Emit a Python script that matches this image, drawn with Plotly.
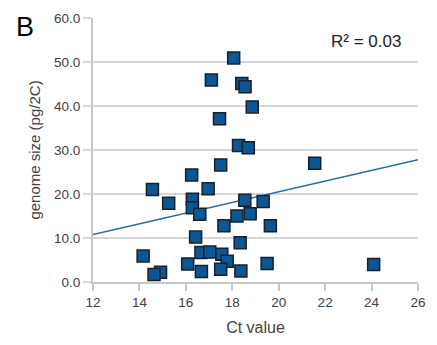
import plotly.graph_objects as go

ct_value = [18.06, 17.10, 18.41, 18.55, 18.86, 17.45, 18.27, 18.69, 17.50, 21.55,
            16.25, 14.56, 16.96, 16.28, 16.28, 15.26, 16.60, 18.54, 19.33, 18.20,
            18.77, 17.64, 19.64, 16.42, 18.34, 14.16, 16.65, 17.03, 17.55, 17.78,
            16.08, 19.50, 14.91, 14.63, 16.67, 17.50, 18.37, 24.09]
genome_size = [50.9, 45.9, 45.1, 44.4, 39.8, 37.1, 31.0, 30.5, 26.6, 27.0,
               24.3, 21.0, 21.2, 18.8, 16.9, 17.9, 15.4, 18.6, 18.3, 15.0,
               15.5, 12.8, 12.8, 10.2, 8.9, 5.9, 6.7, 6.8, 6.3, 4.7,
               4.1, 4.2, 2.2, 1.7, 2.4, 2.9, 2.5, 4.0]

trend_x = [12, 26]
trend_y = [10.8, 27.8]

x_ticks = [12, 14, 16, 18, 20, 22, 24, 26]
y_ticks = [0, 10, 20, 30, 40, 50, 60]
y_tick_labels = ["0.0", "10.0", "20.0", "30.0", "40.0", "50.0", "60.0"]

fig = go.Figure()
fig.add_trace(go.Scatter(
    x=trend_x, y=trend_y, mode="lines",
    line=dict(color="#2b6cad", width=1.5), hoverinfo="skip"))
fig.add_trace(go.Scatter(
    x=ct_value, y=genome_size, mode="markers",
    marker=dict(symbol="square", size=12, color="#0b5694",
                line=dict(color="#17202b", width=1.5))))

font = "Liberation Sans, Arial, sans-serif"
fig.update_layout(
    width=437, height=345,
    margin=dict(l=93, r=14, t=11, b=62),
    paper_bgcolor="white", plot_bgcolor="white",
    showlegend=False,
    font=dict(family=font, size=13, color="#404040"),
    xaxis=dict(range=[12, 26], tickvals=x_ticks, showgrid=False, zeroline=False,
               showline=True, linecolor="#c8c8c8", linewidth=2,
               ticks="outside", ticklen=7, tickwidth=2, tickcolor="#c8c8c8",
               tickfont=dict(size=13.5, color="#404040"),
               title=dict(text="Ct value", font=dict(size=16, color="#444444"), standoff=13)),
    yaxis=dict(range=[0, 60], tickvals=y_ticks, ticktext=y_tick_labels,
               showgrid=True, gridcolor="#d6d6d6", gridwidth=2, zeroline=False,
               showline=True, linecolor="#c8c8c8", linewidth=2,
               ticks="outside", ticklen=8, tickwidth=2, tickcolor="#d6d6d6",
               tickfont=dict(size=13.5, color="#404040"),
               title=dict(text="genome size (pg/2C)", font=dict(size=15, color="#444444"), standoff=10)),
    annotations=[
        dict(text="B", xref="paper", yref="paper", x=-0.209, y=0.965,
             xanchor="center", yanchor="middle", showarrow=False,
             font=dict(size=27, color="#000000", family=font)),
        dict(text="R² = 0.03", xref="paper", yref="paper", x=0.955, y=0.912,
             xanchor="right", yanchor="middle", showarrow=False,
             font=dict(size=17, color="#222222", family=font)),
    ],
)
fig.write_html("out.html")
